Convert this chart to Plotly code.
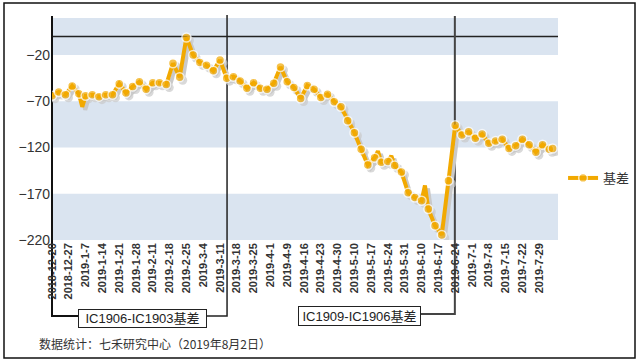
import pandas as pd
import plotly.graph_objects as go

# ---- categories: trading days ----
holidays = ["2018-12-31", "2019-01-01", "2019-02-04", "2019-02-05", "2019-02-06",
            "2019-02-07", "2019-02-08", "2019-04-05", "2019-05-01", "2019-05-02",
            "2019-05-03", "2019-06-07"]
bd = pd.bdate_range("2018-12-20", "2019-08-02")
bd = [d for d in bd if d.strftime("%Y-%m-%d") not in holidays]
days = [f"{d.year}-{d.month}-{d.day}" for d in bd]
tick_labels = days[::5]

N = None
basis = [
    -64, N, -60, N, -63, N, -53.5, N, -62, -76,
    -64, N, -63, N, -65, N, -63, N, -63, N,
    -51, N, -61, N, -54, N, -49, N, -57, N,
    -50, N, -50, N, -52, N, -29, N, -44, N,
    -1, N, -20, N, -28, N, -31, N, -37, N,
    -25.5, N, -45, N, -43.5, N, -48, N, -56, N,
    -50, N, -56, N, -57, N, -50.5, N, -33, N,
    -49, N, -55, N, -67, N, -53, N, -57, N,
    -66, N, -62.5, N, -70.5, N, -76, N, -91, N,
    -104, N, -122, N, -139, N, -131, -124, -136, N,
    -135, -129, -139.5, N, -146.5, N, -169, N, -174, N,
    -177.5, -161, -186.5, N, -204.5, N, -214.5, N, -156, N,
    -96, N, -106.5, N, -103, N, -110, N, -105.5, N,
    -115.5, N, -113, N, -111, N, -121, N, -118, N,
    -111, N, -117, N, -125, N, -117, N, -122, -121,
]
# days whose points carry no marker in the original
no_marker_days = [days[9], days[97], days[101], days[111]]

series_name = "基差"
box1_text = "IC1906-IC1903基差"
box2_text = "IC1909-IC1906基差"
footer = "数据统计：七禾研究中心（2019年8月2日）"
y_ticks = [-220, -170, -120, -70, -20]

# ---- styling ----
ORANGE = "#F2A900"
BAND = "#DAE4F0"
FONT = "Liberation Sans, Arial, Noto Sans CJK SC"
W, H = 639, 361
# plot area in screen pixels: x 52..558, y 18..240
SL, SR, ST, SB = 52, 558, 18, 240
L, T = SL, ST
R, B = W - SR, H - SB
PW, PH = SR - SL, SB - ST
YMIN, YMAX = -220, 20
XMIN, XMAX = 0, 150.6

def px_x(p):
    return (p - SL) / PW

def px_y(p):
    return (SB - p) / PH

sizes = [0 if d in no_marker_days else 9 for d in days]

fig = go.Figure()
# shadow (base axes, shifted ranges)
fig.add_trace(go.Scatter(
    x=days, y=basis, mode="lines+markers", connectgaps=True,
    line=dict(color="#C9C9C9", width=4),
    marker=dict(size=sizes, color="#C9C9C9", line=dict(width=0)),
    xaxis="x", yaxis="y", showlegend=False, hoverinfo="skip"))
# main series (overlay axes)
fig.add_trace(go.Scatter(
    x=days, y=basis, mode="lines+markers", connectgaps=True, name=series_name,
    line=dict(color=ORANGE, width=4),
    marker=dict(size=sizes, color=ORANGE, line=dict(color="white", width=1.5)),
    xaxis="x2", yaxis="y2"))

dx = 3 / (PW / (XMAX - XMIN))
dy = 3 / (PH / (YMAX - YMIN))

shapes = []
for lo, hi in [(-220, -170), (-120, -70), (-20, 20)]:
    shapes.append(dict(type="rect", xref="paper", yref="y2", x0=0, x1=1, y0=lo, y1=hi,
                       fillcolor=BAND, line=dict(width=0), layer="below"))
shapes.append(dict(type="line", xref="paper", yref="y2", x0=0, x1=1, y0=0, y1=0,
                   line=dict(color="#222", width=1.5), layer="below"))
# left axis + connector to box1
shapes.append(dict(type="path", xref="paper", yref="paper",
                   path=f"M 0 {px_y(16)} L 0 {px_y(316)} L {px_x(79)} {px_y(316)}",
                   line=dict(color="#111", width=2), layer="below"))
x_roll1, x_roll2 = 52.1, 119.9
xr1 = (x_roll1 - XMIN) / (XMAX - XMIN)
xr2 = (x_roll2 - XMIN) / (XMAX - XMIN)
shapes.append(dict(type="path", xref="paper", yref="paper",
                   path=f"M {px_x(207)} {px_y(316)} L {xr1} {px_y(316)} L {xr1} {px_y(15)}",
                   line=dict(color="#222", width=1.5), layer="below"))
shapes.append(dict(type="path", xref="paper", yref="paper",
                   path=f"M {px_x(421)} {px_y(314)} L {xr2} {px_y(314)} L {xr2} {px_y(16)}",
                   line=dict(color="#444", width=2), layer="below"))
# outer border
shapes.append(dict(type="rect", xref="paper", yref="paper",
                   x0=px_x(4), x1=px_x(635), y0=px_y(358), y1=px_y(3),
                   line=dict(color="#111", width=1.5)))

annotations = [
    dict(text=box1_text, xref="paper", yref="paper", x=px_x(142.5), y=px_y(318),
         xanchor="center", yanchor="middle",
         showarrow=False, font=dict(family=FONT, size=13, color="#222"),
         bgcolor="white", bordercolor="#222", borderwidth=1, borderpad=1,
         width=125, height=15),
    dict(text=box2_text, xref="paper", yref="paper", x=px_x(359.5), y=px_y(316),
         xanchor="center", yanchor="middle",
         showarrow=False, font=dict(family=FONT, size=13, color="#222"),
         bgcolor="white", bordercolor="#222", borderwidth=1, borderpad=1,
         width=119, height=16),
    dict(text=footer, xref="paper", yref="paper", x=px_x(37), y=px_y(343),
         xanchor="left", yanchor="middle", showarrow=False,
         font=dict(family="Noto Sans CJK SC", size=12, color="#333")),
]

fig.update_layout(
    width=W, height=H, margin=dict(l=L, r=R, t=T, b=B, autoexpand=False),
    paper_bgcolor="white", plot_bgcolor="rgba(0,0,0,0)",
    font=dict(family=FONT, color="#333"),
    shapes=shapes, annotations=annotations,
    legend=dict(x=1.01, y=px_y(178), xanchor="left", yanchor="middle",
                font=dict(family="Noto Sans CJK SC", size=13, color="#333"),
                bgcolor="rgba(0,0,0,0)", itemwidth=30),
    xaxis=dict(type="category", categoryarray=days, range=[XMIN - dx, XMAX - dx],
               visible=False, fixedrange=True),
    yaxis=dict(range=[YMIN + dy, YMAX + dy], visible=False),
    xaxis2=dict(type="category", categoryarray=days, range=[XMIN, XMAX],
                overlaying="x", anchor="y2", side="bottom",
                tickmode="array", tickvals=tick_labels, ticktext=tick_labels,
                tickangle=-90, showgrid=False, showline=False, zeroline=False,
                ticks="", tickfont=dict(family=FONT, size=11, color="#333", weight="bold")),
    yaxis2=dict(range=[YMIN, YMAX], overlaying="y", anchor="x2", side="left",
                tickmode="array", tickvals=y_ticks, showgrid=False, showline=False,
                zeroline=False, ticks="", ticklabelstandoff=1,
                tickfont=dict(family=FONT, size=14, color="#333")),
)

fig.write_html("out.html", config={"displayModeBar": False},
               post_script="document.body.style.margin='0';document.body.style.overflow='hidden';")
